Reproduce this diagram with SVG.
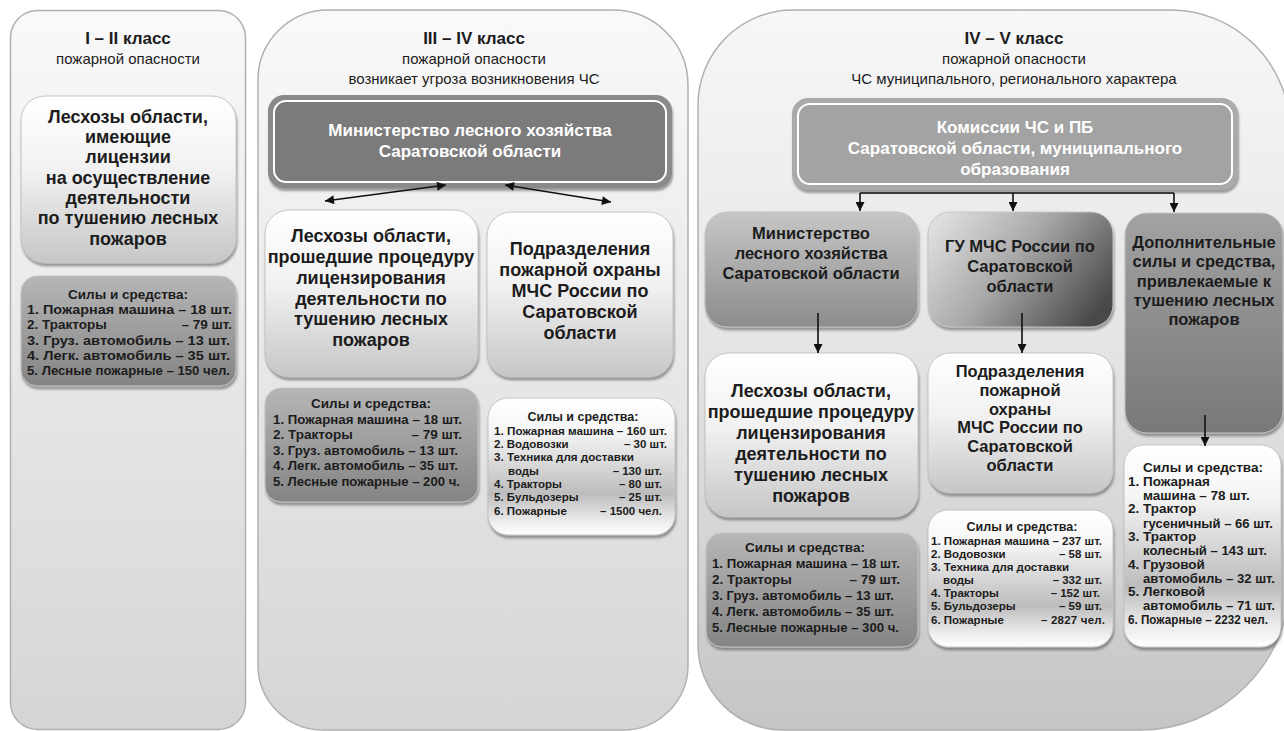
<svg xmlns="http://www.w3.org/2000/svg" width="1284" height="731" viewBox="0 0 1284 731">
<defs>
<style>
text{font-family:"Liberation Sans",Arial,sans-serif;fill:#1c1c1c}
.b{font-weight:bold}
.c{text-anchor:middle}
.e{text-anchor:end}
.w{fill:#ffffff}
.h1{font-size:17px;font-weight:bold}
.h2{font-size:15px}
.big{font-size:18px;font-weight:bold}
.mid{font-size:16.5px;font-weight:bold}
.ls{font-size:13.5px;font-weight:bold}
.ss{font-size:11.5px;font-weight:bold}
.panel{stroke:#b0b0b0;stroke-width:1.5}
.box{stroke:#c4c4c4;stroke-width:1;filter:url(#sh)}
.conn{stroke:#111;stroke-width:1.6;fill:none}
</style>
<linearGradient id="gp" x1="0" y1="0" x2="0" y2="1"><stop offset="0" stop-color="#f9f9f9"/><stop offset="1" stop-color="#d5d5d5"/></linearGradient>
<linearGradient id="gp3" x1="0" y1="0" x2="0" y2="1"><stop offset="0" stop-color="#f7f7f7"/><stop offset="0.5" stop-color="#e3e3e3"/><stop offset="1" stop-color="#c5c5c5"/></linearGradient>
<linearGradient id="gl" x1="0" y1="0" x2="0" y2="1"><stop offset="0" stop-color="#ffffff"/><stop offset="0.45" stop-color="#f1f1f1"/><stop offset="1" stop-color="#c6c6c6"/></linearGradient>
<linearGradient id="gd" x1="0" y1="0" x2="0" y2="1"><stop offset="0" stop-color="#b6b6b6"/><stop offset="1" stop-color="#848484"/></linearGradient>
<linearGradient id="gw" x1="0" y1="0" x2="0" y2="1"><stop offset="0" stop-color="#ffffff"/><stop offset="0.25" stop-color="#f5f5f5"/><stop offset="0.7" stop-color="#bdbdbd"/><stop offset="0.9" stop-color="#ececec"/><stop offset="1" stop-color="#ffffff"/></linearGradient>
<linearGradient id="gm" x1="0" y1="0" x2="0" y2="1"><stop offset="0" stop-color="#c6c6c6"/><stop offset="1" stop-color="#8c8c8c"/></linearGradient>
<linearGradient id="ggu" x1="0" y1="0.2" x2="1" y2="0.7"><stop offset="0" stop-color="#dedede"/><stop offset="0.45" stop-color="#a9a9a9"/><stop offset="1" stop-color="#4a4a4a"/></linearGradient>
<linearGradient id="gdop" x1="0" y1="0" x2="0" y2="1"><stop offset="0" stop-color="#a2a2a2"/><stop offset="1" stop-color="#787878"/></linearGradient>
<filter id="sh" x="-10%" y="-10%" width="120%" height="125%"><feDropShadow dx="1" dy="3" stdDeviation="1.2" flood-color="#555" flood-opacity="0.55"/></filter>
<marker id="ah" viewBox="0 0 10 10" refX="10" refY="5" markerWidth="10" markerHeight="9" markerUnits="userSpaceOnUse" orient="auto-start-reverse"><path d="M0,0 L10,5 L0,10 z" fill="#111"/></marker>
</defs>

<g id="panel-1">
<rect class="panel" x="10.5" y="10.5" width="235" height="719" rx="27" fill="url(#gp)"/>
<text class="h1 c" x="128" y="44">I – II класс</text>
<text class="h2 c" x="128" y="64">пожарной опасности</text>
</g>
<g id="panel-2">
<path class="panel" d="M258,80 A70,70 0 0 1 328,10 L613,10 A75,75 0 0 1 688,85 L688,665 A65,65 0 0 1 623,730 L323,730 A65,65 0 0 1 258,665 Z" fill="url(#gp)"/>
<text class="h1 c" x="474" y="44">III – IV класс</text>
<text class="h2 c" x="474" y="64">пожарной опасности</text>
<text class="h2 c" x="474" y="84">возникает угроза возникновения ЧС</text>
</g>
<g id="panel-3">
<path class="panel" d="M698,105 A95,95 0 0 1 793,10 L1170,10 A120,120 0 0 1 1290,130 L1290,580 A150,150 0 0 1 1140,730 L783,730 A85,85 0 0 1 698,645 Z" fill="url(#gp3)"/>
<text class="h1 c" x="1014" y="44">IV – V класс</text>
<text class="h2 c" x="1014" y="64">пожарной опасности</text>
<text class="h2 c" x="1014" y="84">ЧС муниципального, регионального характера</text>
</g>

<g id="n-leskhoz1">
<rect class="box" x="21" y="96" width="215" height="167" rx="24" fill="url(#gl)"/>
<text class="big c" x="128" y="123">Лесхозы области,</text>
<text class="big c" x="128" y="143">имеющие</text>
<text class="big c" x="128" y="163">лицензии</text>
<text class="big c" x="128" y="184">на осуществление</text>
<text class="big c" x="128" y="204">деятельности</text>
<text class="big c" x="128" y="224">по тушению лесных</text>
<text class="big c" x="128" y="245">пожаров</text>
</g>
<g id="n-sily1">
<rect class="box" x="21" y="276" width="215" height="110" rx="16" fill="url(#gd)"/>
<text class="ls c" x="128" y="299">Силы и средства:</text>
<text class="ls" x="27" y="314" textLength="205" lengthAdjust="spacingAndGlyphs">1. Пожарная машина – 18 шт.</text>
<text class="ls" x="27" y="329">2. Тракторы</text><text class="ls e" x="232" y="329">– 79 шт.</text>
<text class="ls" x="27" y="345" textLength="203" lengthAdjust="spacingAndGlyphs">3. Груз. автомобиль – 13 шт.</text>
<text class="ls" x="27" y="360" textLength="203" lengthAdjust="spacingAndGlyphs">4. Легк. автомобиль – 35 шт.</text>
<text class="ls" x="27" y="375" textLength="203" lengthAdjust="spacingAndGlyphs">5. Лесные пожарные – 150 чел.</text>
</g>

<g id="n-min2">
<rect x="268" y="95" width="404" height="93" rx="16" fill="#8a8a8a" filter="url(#sh)"/>
<rect x="274" y="101" width="392" height="81" rx="12" fill="#7b7b7b" stroke="#ffffff" stroke-width="2"/>
<text class="h1 c w" x="470" y="136">Министерство лесного хозяйства</text>
<text class="h1 c w" x="470" y="157">Саратовской области</text>
</g>
<g id="n-leskhoz2">
<rect class="box" x="265" y="210" width="213" height="167" rx="24" fill="url(#gl)"/>
<text class="big c" x="371" y="242">Лесхозы области,</text>
<text class="big c" x="371" y="263">прошедшие процедуру</text>
<text class="big c" x="371" y="284">лицензирования</text>
<text class="big c" x="371" y="305">деятельности по</text>
<text class="big c" x="371" y="325">тушению лесных</text>
<text class="big c" x="371" y="346">пожаров</text>
</g>
<g id="n-podr2">
<rect class="box" x="487" y="212" width="186" height="165" rx="24" fill="url(#gl)"/>
<text class="big c" x="580" y="255">Подразделения</text>
<text class="big c" x="580" y="276">пожарной охраны</text>
<text class="big c" x="580" y="297">МЧС России по</text>
<text class="big c" x="580" y="318">Саратовской</text>
<text class="big c" x="580" y="339">области</text>
</g>
<g id="n-sily2">
<rect class="box" x="265" y="388" width="213" height="114" rx="16" fill="url(#gd)"/>
<text class="ls c" x="371" y="408">Силы и средства:</text>
<text class="ls" x="273" y="424" textLength="189" lengthAdjust="spacingAndGlyphs">1. Пожарная машина – 18 шт.</text>
<text class="ls" x="273" y="439">2. Тракторы</text><text class="ls e" x="462" y="439">– 79 шт.</text>
<text class="ls" x="273" y="455" textLength="185" lengthAdjust="spacingAndGlyphs">3. Груз. автомобиль – 13 шт.</text>
<text class="ls" x="273" y="470" textLength="185" lengthAdjust="spacingAndGlyphs">4. Легк. автомобиль – 35 шт.</text>
<text class="ls" x="273" y="486" textLength="187" lengthAdjust="spacingAndGlyphs">5. Лесные пожарные – 200 ч.</text>
</g>
<g id="n-sily2b">
<rect class="box" x="488" y="398" width="187" height="137" rx="20" fill="url(#gw)"/>
<text class="c" x="583" y="421" font-size="12.5" font-weight="bold">Силы и средства:</text>
<text class="ss" x="494" y="435" textLength="173" lengthAdjust="spacingAndGlyphs">1. Пожарная машина – 160 шт.</text>
<text class="ss" x="494" y="448">2. Водовозки</text><text class="ss e" x="667" y="448">– 30 шт.</text>
<text class="ss" x="494" y="461" textLength="140" lengthAdjust="spacingAndGlyphs">3. Техника для доставки</text>
<text class="ss" x="508" y="475">воды</text><text class="ss e" x="662" y="475">– 130 шт.</text>
<text class="ss" x="494" y="488">4. Тракторы</text><text class="ss e" x="662" y="488">– 80 шт.</text>
<text class="ss" x="494" y="501">5. Бульдозеры</text><text class="ss e" x="662" y="501">– 25 шт.</text>
<text class="ss" x="494" y="515">6. Пожарные</text><text class="ss e" x="662" y="515">– 1500 чел.</text>
</g>

<g id="n-kom">
<rect x="792" y="98" width="446" height="92" rx="16" fill="#aaaaaa" filter="url(#sh)"/>
<rect x="798" y="104" width="434" height="80" rx="12" fill="#a3a3a3" stroke="#ffffff" stroke-width="2"/>
<text class="h1 c w" x="1015" y="133">Комиссии ЧС и ПБ</text>
<text class="h1 c w" x="1015" y="154">Саратовской области, муниципального</text>
<text class="h1 c w" x="1015" y="175">образования</text>
</g>
<g id="n-min3">
<rect class="box" x="705" y="212" width="213" height="115" rx="22" fill="url(#gm)"/>
<text class="mid c" x="811" y="239">Министерство</text>
<text class="mid c" x="811" y="259">лесного хозяйства</text>
<text class="mid c" x="811" y="279">Саратовской области</text>
</g>
<g id="n-gu">
<rect class="box" x="928" y="212" width="185" height="115" rx="22" fill="url(#ggu)"/>
<text class="mid c" x="1020" y="252">ГУ МЧС России по</text>
<text class="mid c" x="1020" y="272">Саратовской</text>
<text class="mid c" x="1020" y="292">области</text>
</g>
<g id="n-dop">
<rect class="box" x="1125" y="213" width="158" height="220" rx="22" fill="url(#gdop)"/>
<text class="mid c" x="1204" y="248">Дополнительные</text>
<text class="mid c" x="1204" y="267">силы и средства,</text>
<text class="mid c" x="1204" y="287">привлекаемые к</text>
<text class="mid c" x="1204" y="306">тушению лесных</text>
<text class="mid c" x="1204" y="325">пожаров</text>
</g>
<g id="n-leskhoz3">
<rect class="box" x="705" y="353" width="213" height="164" rx="24" fill="url(#gl)"/>
<text class="big c" x="811" y="397">Лесхозы области,</text>
<text class="big c" x="811" y="418">прошедшие процедуру</text>
<text class="big c" x="811" y="439">лицензирования</text>
<text class="big c" x="811" y="460">деятельности по</text>
<text class="big c" x="811" y="481">тушению лесных</text>
<text class="big c" x="811" y="502">пожаров</text>
</g>
<g id="n-podr3">
<rect class="box" x="928" y="353" width="185" height="140" rx="22" fill="url(#gl)"/>
<text class="mid c" x="1020" y="377">Подразделения</text>
<text class="mid c" x="1020" y="396">пожарной</text>
<text class="mid c" x="1020" y="415">охраны</text>
<text class="mid c" x="1020" y="433">МЧС России по</text>
<text class="mid c" x="1020" y="452">Саратовской</text>
<text class="mid c" x="1020" y="471">области</text>
</g>
<g id="n-sily3">
<rect class="box" x="706" y="533" width="212" height="114" rx="16" fill="url(#gd)"/>
<text class="ls c" x="805" y="552">Силы и средства:</text>
<text class="ls" x="712" y="568" textLength="188" lengthAdjust="spacingAndGlyphs">1. Пожарная машина – 18 шт.</text>
<text class="ls" x="712" y="584">2. Тракторы</text><text class="ls e" x="900" y="584">– 79 шт.</text>
<text class="ls" x="712" y="600" textLength="182" lengthAdjust="spacingAndGlyphs">3. Груз. автомобиль – 13 шт.</text>
<text class="ls" x="712" y="616" textLength="182" lengthAdjust="spacingAndGlyphs">4. Легк. автомобиль – 35 шт.</text>
<text class="ls" x="712" y="632" textLength="187" lengthAdjust="spacingAndGlyphs">5. Лесные пожарные – 300 ч.</text>
</g>
<g id="n-sily3b">
<rect class="box" x="928" y="510" width="185" height="137" rx="20" fill="url(#gw)"/>
<text class="c" x="1022" y="531" font-size="12.5" font-weight="bold">Силы и средства:</text>
<text class="ss" x="931" y="545" textLength="171" lengthAdjust="spacingAndGlyphs">1. Пожарная машина – 237 шт.</text>
<text class="ss" x="931" y="558">2. Водовозки</text><text class="ss e" x="1102" y="558">– 58 шт.</text>
<text class="ss" x="931" y="571" textLength="138" lengthAdjust="spacingAndGlyphs">3. Техника для доставки</text>
<text class="ss" x="943" y="584">воды</text><text class="ss e" x="1102" y="584">– 332 шт.</text>
<text class="ss" x="931" y="597">4. Тракторы</text><text class="ss e" x="1100" y="597">– 152 шт.</text>
<text class="ss" x="931" y="610">5. Бульдозеры</text><text class="ss e" x="1102" y="610">– 59 шт.</text>
<text class="ss" x="931" y="624">6. Пожарные</text><text class="ss" x="1041" y="624" textLength="64" lengthAdjust="spacing">– 2827 чел.</text>
</g>
<g id="n-sily3c">
<rect class="box" x="1124" y="445" width="157" height="202" rx="20" fill="url(#gw)"/>
<text class="ls c" x="1203" y="472">Силы и средства:</text>
<text class="ls" x="1128" y="486">1. Пожарная</text>
<text class="ls" x="1143" y="500">машина – 78 шт.</text>
<text class="ls" x="1128" y="513">2. Трактор</text>
<text class="ls" x="1143" y="528" textLength="130" lengthAdjust="spacingAndGlyphs">гусеничный – 66 шт.</text>
<text class="ls" x="1128" y="541">3. Трактор</text>
<text class="ls" x="1143" y="555" textLength="124" lengthAdjust="spacingAndGlyphs">колесный – 143 шт.</text>
<text class="ls" x="1128" y="569">4. Грузовой</text>
<text class="ls" x="1143" y="583" textLength="132" lengthAdjust="spacingAndGlyphs">автомобиль – 32 шт.</text>
<text class="ls" x="1128" y="596">5. Легковой</text>
<text class="ls" x="1143" y="610" textLength="132" lengthAdjust="spacingAndGlyphs">автомобиль – 71 шт.</text>
<text x="1128" y="624" font-size="12.5" font-weight="bold" textLength="140" lengthAdjust="spacingAndGlyphs">6. Пожарные – 2232 чел.</text>
</g>

<g id="connectors">
<line class="conn" x1="446" y1="185" x2="325" y2="201" marker-start="url(#ah)" marker-end="url(#ah)"/>
<line class="conn" x1="505" y1="185" x2="611" y2="202" marker-start="url(#ah)" marker-end="url(#ah)"/>
<polyline class="conn" points="860,193 1174,193"/>
<line class="conn" x1="860" y1="193" x2="860" y2="211" marker-end="url(#ah)"/>
<line class="conn" x1="1013" y1="193" x2="1013" y2="211" marker-end="url(#ah)"/>
<line class="conn" x1="1174" y1="193" x2="1174" y2="212" marker-end="url(#ah)"/>
<line class="conn" x1="818" y1="313" x2="818" y2="353" marker-end="url(#ah)"/>
<line class="conn" x1="1022" y1="313" x2="1022" y2="353" marker-end="url(#ah)"/>
<line class="conn" x1="1205" y1="415" x2="1205" y2="446" marker-end="url(#ah)"/>
</g>
</svg>
